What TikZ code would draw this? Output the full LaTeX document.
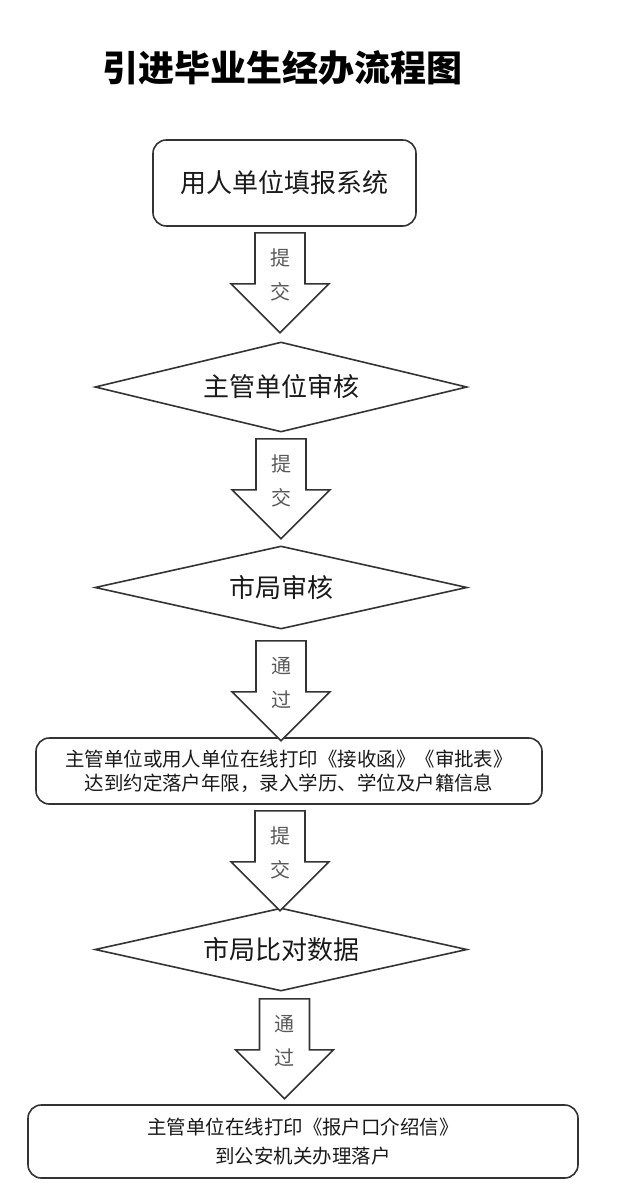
\documentclass[tikz,border=0pt]{standalone}
\usepackage{fontspec}
\setmainfont{Noto Sans CJK SC}
\usetikzlibrary{shapes.geometric}

\begin{document}
\begin{tikzpicture}[x=0.75pt,y=-0.75pt]
\tikzstyle{box}=[draw=black!80, line width=1.2pt, rounded corners=10pt, inner sep=0pt, align=center, text=black!90]
\tikzstyle{check}=[diamond, draw=black!80, line width=1.2pt, aspect=4, inner sep=0pt, minimum width=279pt, text=black!90, font=\fontsize{19.5}{19.5}\selectfont]
\tikzstyle{blockarrow}=[draw=black!80, line width=1.2pt, fill=white, line join=miter]
\tikzstyle{arrowtext}=[inner sep=0pt, text=black!65, font=\fontsize{15}{15}\selectfont]

\useasboundingbox (0,0) rectangle (640,1196);

\node (title) at (282,68) {\fontsize{27}{27}\selectfont\bfseries 引进毕业生经办流程图};

\node[box, minimum width=197.25pt, minimum height=64.5pt, font=\fontsize{19.5}{19.5}\selectfont] (box1) at (284.5,183) {用人单位填报系统};
\node[check, minimum height=67.5pt] (d1) at (281,387) {主管单位审核};
\node[check, minimum height=62.25pt] (d2) at (281,587.5) {市局审核};
\node[box, minimum width=379.5pt, minimum height=49.5pt, font=\fontsize{14.6}{18}\selectfont] (box3) at (289,771)
  {主管单位或用人单位在线打印《接收函》《审批表》\\达到约定落户年限，录入学历、学位及户籍信息};
\node[check, minimum height=62.25pt] (d3) at (281,949.5) {市局比对数据};
\node[box, minimum width=412.5pt, minimum height=54.75pt, font=\fontsize{14.6}{21.5}\selectfont] (box4) at (303,1141.5)
  {主管单位在线打印《报户口介绍信》\\到公安机关办理落户};

\foreach \src/\dx/\gap/\up/\lo in {box1/-4.5/6/提/交, d1/0/6/提/交, d2/0/11/通/过, box3/-9/6/提/交, d3/3.5/7/通/过} {
\begin{scope}[shift={(\src.south)}, shift={(\dx,\gap)}]
\draw[blockarrow] (-25,0) -- (25,0) -- (25,51) -- (49,51) -- (0,100) -- (-49,51) -- (-25,51) -- cycle;
\node[arrowtext] (\src-up) at (0,25) {\up};
\node[arrowtext] (\src-lo) at (0,59) {\lo};
\end{scope}
}

\end{tikzpicture}
\end{document}
